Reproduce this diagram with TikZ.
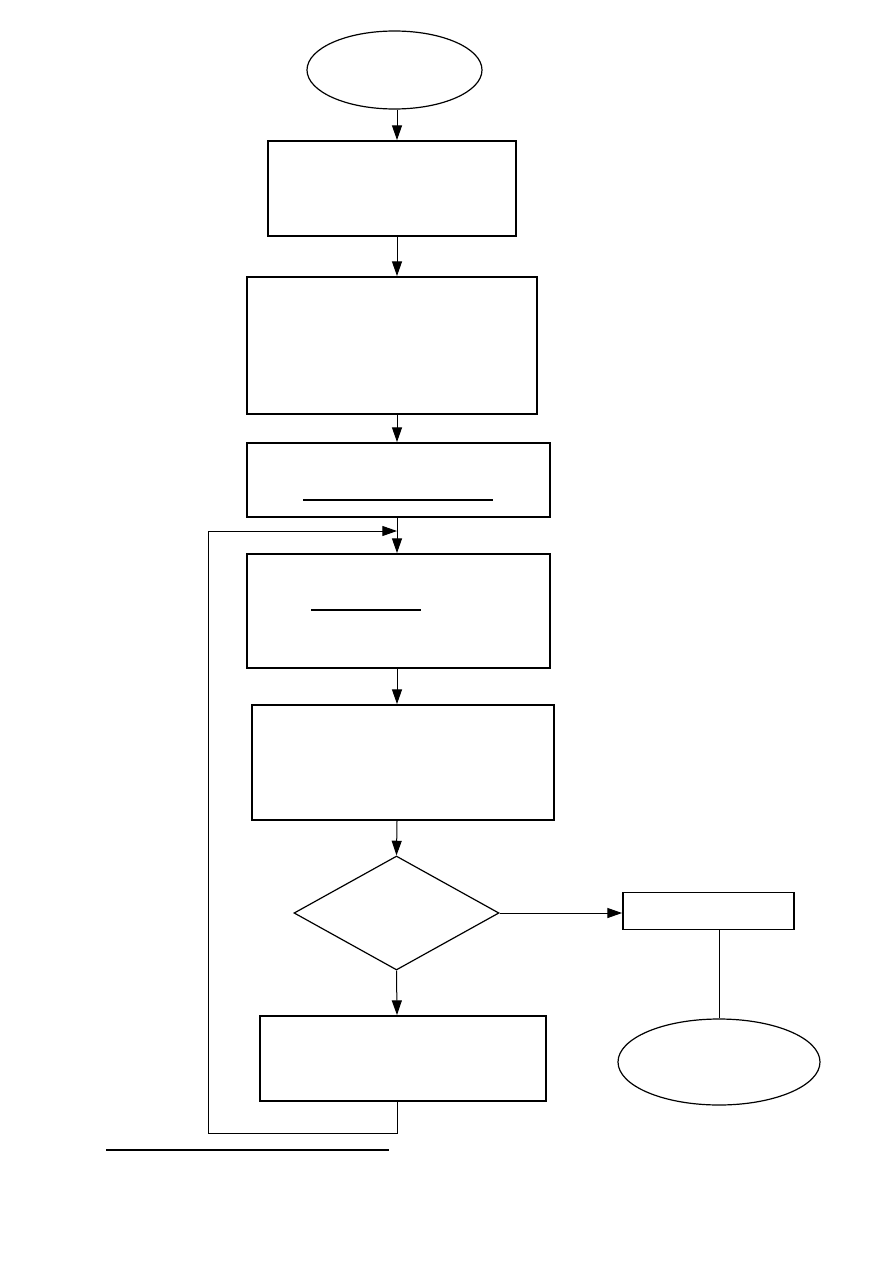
\documentclass[tikz,border=0pt]{standalone}
\usetikzlibrary{shapes.geometric, arrows.meta}

\tikzset{
  blk/.style={draw, line width=1.4pt, inner sep=0pt},
  term/.style={draw, ellipse, line width=0.9pt, inner sep=0pt},
  cond/.style={draw, diamond, line width=0.9pt, inner sep=0pt},
  flow/.style={-{Triangle[length=11pt, width=7.5pt]}, line width=0.75pt},
  rule/.style={line width=1.5pt}
}

\begin{document}
\begin{tikzpicture}[x=0.75pt, y=-0.75pt]
  \useasboundingbox (0,0) rectangle (893,1263);
  \coordinate (col) at (397,0);
  % terminals and steps
  \node[term, minimum width=131.25pt, minimum height=58.5pt] (start) at (394.5,70) {};
  \node[blk, minimum width=186pt, minimum height=71.25pt] (read) at (392,188.5) {};
  \node[blk, minimum width=217.5pt, minimum height=102.75pt] (init) at (392,345.5) {};
  \node[blk, minimum width=227.25pt, minimum height=55.5pt] (setup) at (398.5,480) {};
  \node[blk, minimum width=227.25pt, minimum height=85.5pt] (calc) at (398.5,611) {};
  \node[blk, minimum width=226.5pt, minimum height=86.25pt] (update) at (403,762.5) {};
  \node[cond, minimum width=153.75pt, minimum height=85.5pt] (test) at (396.5,913) {};
  \node[blk, minimum width=128.25pt, minimum height=27.75pt] (output) at (708.5,911) {};
  \node[term, minimum width=151.5pt, minimum height=64.5pt] (stop) at (719,1062) {};
  \node[blk, minimum width=214.5pt, minimum height=63.75pt] (next) at (403,1058.5) {};
  % underlines inside boxes
  \draw[rule] (303,500) -- (493,500);
  \draw[rule] (311,610) -- (421,610);
  % main column
  \draw[flow] (start.south -| col) -- (read.north -| col);
  \draw[flow] (read.south -| col) -- (init.north -| col);
  \draw[flow] (init.south -| col) -- (setup.north -| col);
  \draw[flow] (setup.south -| col) -- (calc.north -| col);
  \draw[flow] (calc.south -| col) -- (update.north -| col);
  \draw[flow] (update.south -| col) -- (test.north);
  \draw[flow] (test.south) -- (next.north -| col);
  \draw[flow] (test.east) -- (output.west |- test.east);
  \draw[line width=0.75pt] (output.south -| stop.north) -- (stop.north);
  % loop back
  \coordinate (back) at (397,531);
  \draw[flow] (next.south -| col) -- (397,1133) -- (208,1133) -- (208,531) -- (back);
  % rule under the chart
  \draw[rule] (106,1150) -- (389,1150);
\end{tikzpicture}
\end{document}
